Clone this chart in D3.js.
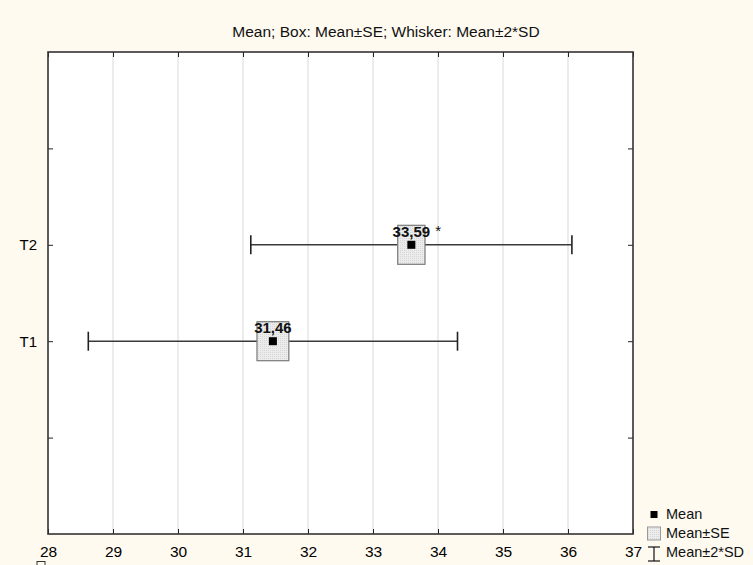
<!DOCTYPE html>
<html>
<head>
<meta charset="utf-8">
<script src="https://cdn.jsdelivr.net/npm/d3@7"></script>
<style>
html,body{margin:0;padding:0;background:#fffaf0;}
svg{display:block;font-family:"Liberation Sans",Arial,sans-serif;}
</style>
</head>
<body>
<svg id="chart" width="753" height="565"></svg>
<script>
const categories = ["T1", "T2"];
const means = [31.46, 33.59];
const ses = [0.245, 0.21];
const sd2 = [2.84, 2.47];
const meanLabels = ["31,46", "33,59"];
const markers = ["", "*"];
const xTicks = [28, 29, 30, 31, 32, 33, 34, 35, 36, 37];
const title = "Mean; Box: Mean±SE; Whisker: Mean±2*SD";
const legendItems = ["Mean", "Mean±SE", "Mean±2*SD"];

const svg = d3.select("#chart");
const L = 48, R = 633, T = 52, B = 534;

const defs = svg.append("defs");
const pat = defs.append("pattern").attr("id", "dots").attr("width", 2).attr("height", 2)
  .attr("patternUnits", "userSpaceOnUse");
pat.append("rect").attr("width", 2).attr("height", 2).attr("fill", "#ececec");
pat.append("rect").attr("width", 1).attr("height", 1).attr("fill", "#d6d6d6");

svg.append("rect").attr("width", 753).attr("height", 565).attr("fill", "#fffaf0");
svg.append("rect").attr("x", L).attr("y", T).attr("width", R - L).attr("height", B - T).attr("fill", "#ffffff");

const x = d3.scaleLinear().domain([28, 37]).range([L, R]);
const yPos = d3.scaleLinear().domain([0, 5]).range([B, T]);
const catPos = c => categories.indexOf(c) + 2;
const yTickVals = [1, 2, 3, 4];

// gridlines
svg.append("g").selectAll("line").data(xTicks.slice(1, -1)).join("line")
  .attr("x1", d => x(d)).attr("x2", d => x(d)).attr("y1", T).attr("y2", B)
  .attr("stroke", "#d9d9d9").attr("stroke-width", 1);

// axes (inward ticks on all sides)
const fmtY = d => { const i = d - 2; return (i >= 0 && i < categories.length) ? categories[i] : ""; };
const gB = svg.append("g").attr("transform", `translate(0,${B})`)
  .call(d3.axisBottom(x).tickValues(xTicks).tickSize(-5).tickSizeOuter(0).tickPadding(12));
const gT = svg.append("g").attr("transform", `translate(0,${T})`)
  .call(d3.axisTop(x).tickValues(xTicks).tickSize(-5).tickSizeOuter(0).tickFormat(""));
const gL = svg.append("g").attr("transform", `translate(${L},0)`)
  .call(d3.axisLeft(yPos).tickValues(yTickVals).tickSize(-5).tickSizeOuter(0).tickFormat(fmtY).tickPadding(11));
const gR = svg.append("g").attr("transform", `translate(${R},0)`)
  .call(d3.axisRight(yPos).tickValues(yTickVals).tickSize(-5).tickSizeOuter(0).tickFormat(""));
[gB, gT, gL, gR].forEach(g => {
  g.select(".domain").remove();
  g.selectAll(".tick line").attr("stroke", "#222").attr("stroke-width", 1);
  g.selectAll("text").attr("fill", "#000").style("font-size", "15px")
    .style("font-family", "'Liberation Sans',Arial,sans-serif");
});
gB.selectAll("text").style("font-size", "15.5px");

// frame
svg.append("rect").attr("x", L).attr("y", T).attr("width", R - L).attr("height", B - T)
  .attr("fill", "none").attr("stroke", "#333").attr("stroke-width", 1.6);

// data marks
const data = categories.map((c, i) => ({ c, m: means[i], se: ses[i], sd: sd2[i], lab: meanLabels[i], mk: markers[i] }));
const g = svg.append("g");
const cap = 19, boxH = 39, sq = 8;
data.forEach(d => {
  const cy = yPos(catPos(d.c));
  g.append("line").attr("x1", x(d.m - d.sd)).attr("x2", x(d.m + d.sd)).attr("y1", cy).attr("y2", cy)
    .attr("stroke", "#3a3a3a").attr("stroke-width", 1.5);
  [d.m - d.sd, d.m + d.sd].forEach(v => {
    g.append("line").attr("x1", x(v)).attr("x2", x(v)).attr("y1", cy - cap / 2).attr("y2", cy + cap / 2)
      .attr("stroke", "#222").attr("stroke-width", 1.6);
  });
  g.append("rect").attr("x", x(d.m - d.se)).attr("y", cy - boxH / 2)
    .attr("width", x(d.m + d.se) - x(d.m - d.se)).attr("height", boxH)
    .attr("fill", "url(#dots)").attr("stroke", "#7a7a7a").attr("stroke-width", 1.2);
  g.append("rect").attr("x", x(d.m) - sq / 2).attr("y", cy - sq / 2).attr("width", sq).attr("height", sq)
    .attr("fill", "#000");
  g.append("text").attr("x", x(d.m)).attr("y", cy - 8).attr("text-anchor", "middle")
    .style("font-size", "15px").style("font-weight", "bold").attr("fill", "#111").text(d.lab);
  if (d.mk) {
    g.append("text").attr("x", x(d.m) + 24).attr("y", cy - 9)
      .style("font-size", "15px").attr("fill", "#111").text(d.mk);
  }
});

// title
svg.append("text").attr("x", 386).attr("y", 37).attr("text-anchor", "middle")
  .style("font-size", "15.5px").attr("fill", "#111").text(title);

// legend
const lg = svg.append("g");
const lx = 654;
lg.append("rect").attr("x", lx - 3.5).attr("y", 511).attr("width", 7).attr("height", 7).attr("fill", "#000");
lg.append("rect").attr("x", lx - 6.5).attr("y", 527).attr("width", 13).attr("height", 13)
  .attr("fill", "url(#dots)").attr("stroke", "#999").attr("stroke-width", 1);
lg.append("line").attr("x1", lx).attr("x2", lx).attr("y1", 547).attr("y2", 561).attr("stroke", "#111").attr("stroke-width", 1.2);
lg.append("line").attr("x1", lx - 6).attr("x2", lx + 6).attr("y1", 547).attr("y2", 547).attr("stroke", "#111").attr("stroke-width", 1.2);
lg.append("line").attr("x1", lx - 6).attr("x2", lx + 6).attr("y1", 561).attr("y2", 561).attr("stroke", "#111").attr("stroke-width", 1.2);
const ly = [519, 538, 557];
legendItems.forEach((t, i) => {
  lg.append("text").attr("x", 666).attr("y", ly[i]).style("font-size", "14.5px").attr("fill", "#111").text(t);
});

// small artifact bottom-left
svg.append("rect").attr("x", 37).attr("y", 561.5).attr("width", 8).attr("height", 6)
  .attr("fill", "none").attr("stroke", "#333").attr("stroke-width", 1);
</script>
</body>
</html>
